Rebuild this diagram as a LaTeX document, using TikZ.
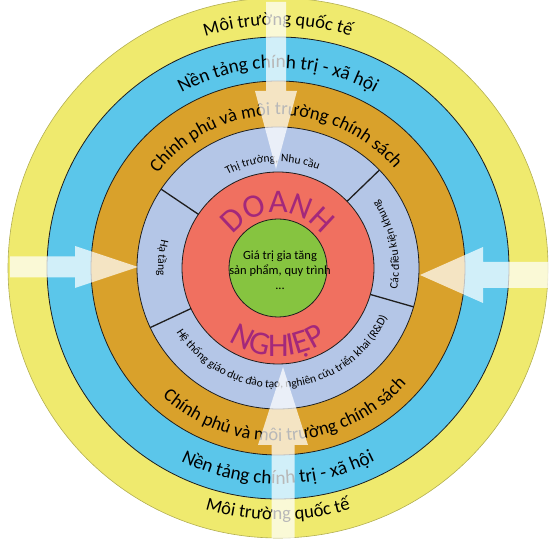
\documentclass[tikz,border=0pt]{standalone}
\usepackage{fontspec}
\setmainfont{Carlito}
\definecolor{cyel}{HTML}{EFEA6E}
\definecolor{cblu}{HTML}{5BC6EA}
\definecolor{cora}{HTML}{D9A12B}
\definecolor{clav}{HTML}{B4C6E7}
\definecolor{cred}{HTML}{F07060}
\definecolor{cgrn}{HTML}{86C440}
\definecolor{cmag}{HTML}{A3287B}
\definecolor{cline}{HTML}{1E1E1E}
\newcommand\arcput[4]{\pgftext[base,at={\pgfpoint{#1pt}{#2pt}},rotate=#3]{#4}}
\ExplSyntaxOn
\dim_new:N \g__arc_total_dim
\dim_new:N \g__arc_cum_dim
\dim_new:N \g__arc_w_dim
\box_new:N \g__arc_box
\fp_new:N \g__arc_ang_fp
\cs_new_protected:Npn \__arc_measure:n #1
 {
  \pgfinterruptpicture
   \hbox_gset:Nn \g__arc_box { #1 }
  \endpgfinterruptpicture
  \dim_gset:Nn \g__arc_w_dim { \box_wd:N \g__arc_box }
 }
\cs_new_protected:Npn \__arc_text:nnnnn #1#2#3#4#5
 {
  \dim_gzero:N \g__arc_total_dim
  \str_map_inline:nn {#5}
   {
    \__arc_measure:n { #4 ##1 }
    \dim_gadd:Nn \g__arc_total_dim { \g__arc_w_dim }
   }
  \dim_gzero:N \g__arc_cum_dim
  \str_map_inline:nn {#5}
   {
    \__arc_measure:n { #4 ##1 }
    \fp_gset:Nn \g__arc_ang_fp
     { (#1) + (#3) * ( \dim_to_fp:n { \g__arc_cum_dim } + \dim_to_fp:n { \g__arc_w_dim } / 2 - \dim_to_fp:n { \g__arc_total_dim } / 2 ) / (#2) * 180 / pi }
    \use:e
     {
      \exp_not:N \arcput
       { \fp_eval:n { round ( 278 + (#2) * cosd ( \g__arc_ang_fp ) , 3 ) } }
       { \fp_eval:n { round ( 272 + (#2) * sind ( \g__arc_ang_fp ) , 3 ) } }
       { \fp_eval:n { round ( \g__arc_ang_fp + (#3) * 90 , 3 ) } }
     }
     { #4 ##1 }
    \dim_gadd:Nn \g__arc_cum_dim { \g__arc_w_dim }
   }
 }
\NewDocumentCommand \arctext { m m m m m } { \__arc_text:nnnnn {#1} {#2} {#3} {#4} {#5} }
\ExplSyntaxOff
\tikzset{
  ring/.style={draw=cline,line width=0.8pt},
  divider/.style={draw=cline,line width=1.3pt},
  arrowfill/.style={fill=white,fill opacity=0.72},
}
\begin{document}
\begin{tikzpicture}[x=1pt,y=1pt]
\useasboundingbox (0,0) rectangle (549,540);
\coordinate (C) at (278,272);
% rings
\fill[cyel,draw=cyel!75!black,line width=0.6pt] (C) circle[radius=270];
\fill[cblu,ring] (C) circle[radius=231];
\fill[cora,ring] (C) circle[radius=187];
\fill[clav,ring] (C) circle[radius=141];
\fill[cred,ring] (C) circle[radius=96];
\fill[cgrn,ring] (C) circle[radius=49];
% dividers of the lavender ring
\foreach \a in {146,44,-16,205}{
  \draw[divider] (C) ++(\a:96) -- ++(\a:45);
}
% outer ring texts
\def\bigf{\fontsize{18.5}{22}\selectfont}
\def\midf{\fontsize{19.2}{22}\selectfont}
\arctext{90}{243}{-1}{\bigf}{Môi trường quốc tế}
\arctext{270}{252}{1}{\bigf}{Môi trường quốc tế}
\arctext{90}{200}{-1}{\midf}{Nền tảng chính trị - xã hội}
\arctext{270}{216}{1}{\midf}{Nền tảng chính trị - xã hội}
\arctext{91}{153}{-1}{\bigf}{Chính phủ và môi trường chính sách}
\arctext{273}{173}{1}{\bigf}{Chính phủ và môi trường chính sách}
% lavender ring texts
\def\smf{\fontsize{11.5}{13}\selectfont}
\arctext{93}{106}{-1}{\smf}{Thị trường, Nhu cầu}
\arctext{12}{121}{1}{\smf}{Các điều kiện khung}
\arctext{175}{120}{1}{\smf}{Hạ tầng}
\arctext{274}{120}{1}{\smf}{Hệ thống giáo dục đào tạo, nghiên cứu triển khai (R&D)}
% red ring texts
\def\hugef{\color{cmag}\fontsize{33}{36}\selectfont}
\arctext{90}{55}{-1}{\hugef}{DOANH}
\arctext{270}{88}{1}{\hugef}{NGHIỆP}
% core
\node[align=center,font=\fontsize{12.5}{15}\selectfont] (core) at (280,270) {Giá trị gia tăng\\sản phẩm, quy trình\\...};
% arrows
\fill[arrowfill] (266,538) -- (286,538) -- (286,449) -- (297,449) -- (276,371) -- (255,449) -- (266,449) -- cycle;
\fill[arrowfill] (271.5,2) -- (294.5,2) -- (294.5,95) -- (308,95) -- (283,173) -- (258,95) -- (271.5,95) -- cycle;
\fill[arrowfill] (10,262.5) -- (75,262.5) -- (75,252) -- (138,273) -- (75,294) -- (75,283.5) -- (10,283.5) -- cycle;
\fill[arrowfill] (549,252) -- (483,252) -- (483,237) -- (420,265) -- (483,293) -- (483,278) -- (549,278) -- cycle;
\end{tikzpicture}
\end{document}
